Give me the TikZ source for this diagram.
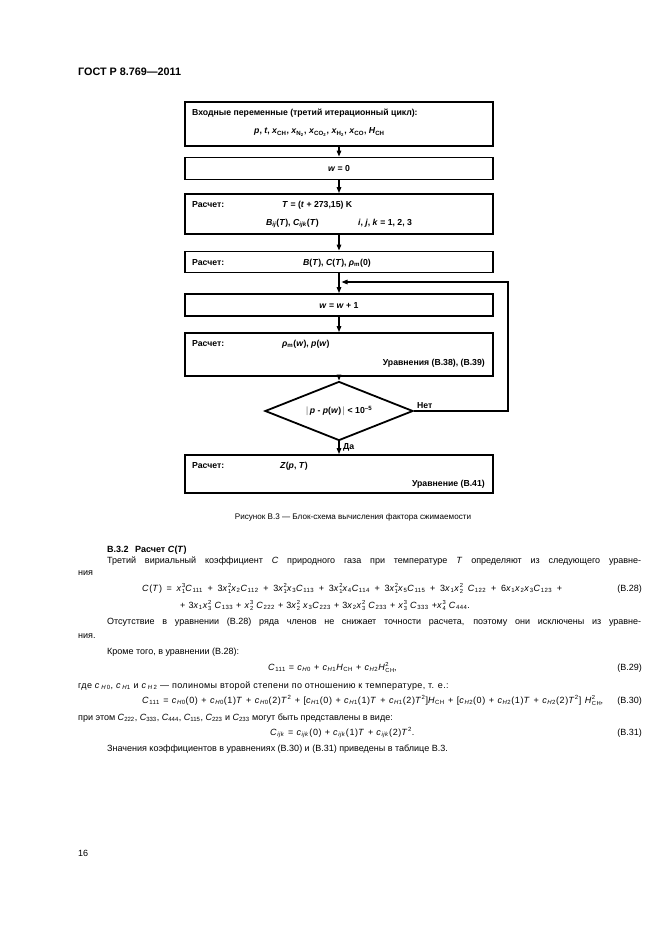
\documentclass[tikz,border=0pt]{standalone}
\usepackage{fontspec}
\setmainfont{Liberation Sans}
\usetikzlibrary{arrows.meta,shapes.geometric}

\newcommand\I[1]{\textit{#1}}
\newcommand\lo[1]{\textsubscript{#1}}
\newcommand\hi[1]{\textsuperscript{#1}}
\newcommand\hilo[2]{\makebox[0pt][l]{\raisebox{4.2pt}{\fontsize{5.8}{6}\selectfont #1}}\raisebox{-2pt}{\fontsize{5.8}{6}\selectfont #2}}
\newcommand\jline[2]{\makebox[#1][s]{#2}}
\newcommand\eqf{\addfontfeature{LetterSpace=7}}

\tikzset{
  blk/.style={draw, line width=1.8pt, minimum width=308pt, inner sep=0pt},
  bx/.style={font=\fontsize{8.7}{9}\selectfont\bfseries, inner sep=0pt, anchor=base west},
  arr/.style={line width=1.3pt, -{Triangle[length=6pt,width=4.5pt]}},
  body/.style={font=\fontsize{9}{10}\selectfont, inner sep=0pt, anchor=base west},
}

\begin{document}
\begin{tikzpicture}[x=1pt,y=-1pt]
\useasboundingbox (0,0) rectangle (661,936);
\fill[white] (0,0) rectangle (661,936);

\node[body, font=\fontsize{10.8}{12}\selectfont\bfseries] (hdr) at (78,76) {ГОСТ Р 8.769—2011};

% flowchart
\node[blk, minimum height=44pt] (inp) at (339,124) {};
\node[blk, minimum height=22pt] (wzero) at (339,168.5) {};
\node[blk, minimum height=40pt] (coef) at (339,214) {};
\node[blk, minimum height=21pt] (virial) at (339,262) {};
\node[blk, minimum height=22pt] (wnext) at (339,305) {};
\node[blk, minimum height=43pt] (dens) at (339,354.5) {};
\node[diamond, draw, line width=1.8pt, aspect=2.47, minimum width=148pt, minimum height=59pt, inner sep=0pt,
  font=\fontsize{8.7}{9}\selectfont\bfseries] (chk) at (339,411) {$|$\,\I{p} - \I{p}(\I{w})\,$|$ < 10\hi{–5}};
\node[blk, minimum height=38pt] (zcalc) at (339,474) {};

\node[bx] (inA) at (192,116) {Входные переменные (третий итерационный цикл):};
\node[bx] (inB) at (254,134) {\I{p}, \I{t}, \I{x}\lo{CH}, \I{x}\lo{N\lo{2}}, \I{x}\lo{CO\lo{2}}, \I{x}\lo{H\lo{2}}, \I{x}\lo{CO}, \I{H}\lo{CH}};
\node[bx, anchor=base] (wzA) at (339,171.5) {\I{w} = 0};
\node[bx] (coA) at (192,207) {Расчет:};
\node[bx] (coB) at (282,207) {\I{T} = (\I{t} + 273,15) K};
\node[bx] (coC) at (266,225) {\I{B}\lo{\I{ij}}(\I{T}), \I{C}\lo{\I{ijk}}(\I{T})};
\node[bx] (coD) at (358,225) {\I{i}, \I{j}, \I{k} = 1, 2, 3};
\node[bx] (viA) at (192,265) {Расчет:};
\node[bx] (viB) at (303,265) {\I{B}(\I{T}), \I{C}(\I{T}), \I{ρ}\lo{m}(0)};
\node[bx, anchor=base] (wnA) at (339,308) {\I{w} = \I{w} + 1};
\node[bx] (deA) at (192,346) {Расчет:};
\node[bx] (deB) at (282,346) {\I{ρ}\lo{m}(\I{w}), \I{p}(\I{w})};
\node[bx, anchor=base east] (deC) at (485,365) {Уравнения (В.38), (В.39)};
\node[bx] (zcA) at (192,468) {Расчет:};
\node[bx] (zcB) at (280,468) {\I{Z}(\I{p}, \I{T})};
\node[bx, anchor=base east] (zcC) at (485,486) {Уравнение (В.41)};
\node[bx] (no) at (417,408) {Нет};
\node[bx] (yes) at (343,449) {Да};

\draw[arr] (inp) -- (wzero);
\draw[arr] (wzero) -- (coef);
\draw[arr] (coef) -- (virial);
\draw[arr] (virial) -- (wnext);
\draw[arr] (wnext) -- (dens);
\draw[arr] (dens) -- (chk);
\draw[arr] (chk) -- (zcalc);
\coordinate (rt) at (508,282);
\coordinate (back) at (341.5,282);
\draw[arr] (chk.east) -| (rt) -- (back);

\node[body, anchor=base, font=\fontsize{8.1}{9}\selectfont] (cap) at (353,519) {Рисунок В.3 — Блок-схема вычисления фактора сжимаемости};

% text of B.3.2
\node[body, font=\fontsize{9}{10}\selectfont\bfseries] (sec) at (107,552.5) {В.3.2\hspace{4pt} Расчет \I{C}(\I{T})};
\node[body] (p1a) at (107,563.5) {\jline{534pt}{Третий вириальный коэффициент \I{C} природного газа при температуре \I{T} определяют из следующего уравне-}};
\node[body] (p1b) at (78,575.5) {ния};
\node[body] (e28a) at (142,591.5) {\eqf\jline{420pt}{\I{C}(\I{T}) = \I{x}\hilo{3}{1}\I{C}\lo{111} + 3\I{x}\hilo{2}{1}\I{x}\lo{2}\I{C}\lo{112} + 3\I{x}\hilo{2}{1}\I{x}\lo{3}\I{C}\lo{113} + 3\I{x}\hilo{2}{1}\I{x}\lo{4}\I{C}\lo{114} + 3\I{x}\hilo{2}{1}\I{x}\lo{5}\I{C}\lo{115} + 3\I{x}\lo{1}\I{x}\hilo{2}{2} \I{C}\lo{122} + 6\I{x}\lo{1}\I{x}\lo{2}\I{x}\lo{3}\I{C}\lo{123} +}};
\node[body, anchor=base east] (n28) at (642,591.5) {(В.28)};
\node[body] (e28b) at (180,608.5) {\eqf + 3\I{x}\lo{1}\I{x}\hilo{2}{3} \I{C}\lo{133} + \I{x}\hilo{3}{2} \I{C}\lo{222} + 3\I{x}\hilo{2}{2} \I{x}\lo{3}\I{C}\lo{223} + 3\I{x}\lo{2}\I{x}\hilo{2}{3} \I{C}\lo{233} + \I{x}\hilo{3}{3} \I{C}\lo{333} +\I{x}\hilo{3}{4} \I{C}\lo{444}.};
\node[body] (p2a) at (107,624.5) {\jline{534pt}{Отсутствие в уравнении (В.28) ряда членов не снижает точности расчета, поэтому они исключены из уравне-}};
\node[body] (p2b) at (78,638.5) {ния.};
\node[body] (p3) at (107,654.5) {Кроме того, в уравнении (В.28):};
\node[body] (e29) at (268,670.5) {\eqf\I{C}\lo{111} = \I{c}\lo{\I{H}0} + \I{c}\lo{\I{H}1}\I{H}\lo{CH} + \I{c}\lo{\I{H}2}\I{H}\hilo{2}{CH},};
\node[body, anchor=base east] (n29) at (642,670.5) {(В.29)};
\node[body] (p4) at (78,688.5) {\addfontfeature{LetterSpace=4}где \I{c}\,\lo{\I{H}\,0}, \I{c}\,\lo{\I{H}1} и \I{c}\,\lo{\I{H}\,2} — полиномы второй степени по отношению к температуре, т. е.:};
\node[body] (e30) at (142,703.5) {\eqf\jline{461pt}{\I{C}\lo{111} = \I{c}\lo{\I{H}0}(0) + \I{c}\lo{\I{H}0}(1)\I{T} + \I{c}\lo{\I{H}0}(2)\I{T}\hi{2} + [\I{c}\lo{\I{H}1}(0) + \I{c}\lo{\I{H}1}(1)\I{T} + \I{c}\lo{\I{H}1}(2)\I{T}\hi{2}]\I{H}\lo{CH} + [\I{c}\lo{\I{H}2}(0) + \I{c}\lo{\I{H}2}(1)\I{T} + \I{c}\lo{\I{H}2}(2)\I{T}\hi{2}] \I{H}\hilo{2}{CH},}};
\node[body, anchor=base east] (n30) at (642,703.5) {(В.30)};
\node[body] (p5) at (78,720.5) {при этом \I{C}\lo{222}, \I{C}\lo{333}, \I{C}\lo{444}, \I{C}\lo{115}, \I{C}\lo{223} и \I{C}\lo{233} могут быть представлены в виде:};
\node[body] (e31) at (270,735.5) {\eqf\I{C}\lo{\I{ijk}} = \I{c}\lo{\I{ijk}}(0) + \I{c}\lo{\I{ijk}}(1)\I{T} + \I{c}\lo{\I{ijk}}(2)\I{T}\hi{2}.};
\node[body, anchor=base east] (n31) at (642,735.5) {(В.31)};
\node[body] (p6) at (107,751.5) {Значения коэффициентов в уравнениях (В.30) и (В.31) приведены в таблице В.3.};

\node[body] (pg) at (78,856) {16};
\end{tikzpicture}
\end{document}
